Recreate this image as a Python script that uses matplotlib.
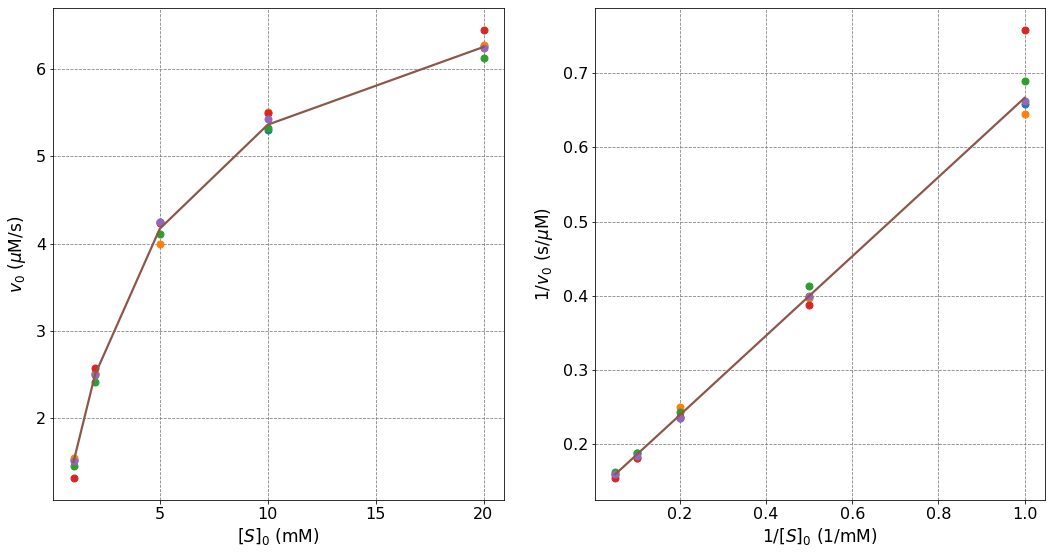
import numpy as np
from matplotlib import pyplot as plt

# substrate concentrations (mM)
S0 = np.array([1, 2, 5, 10, 20])

# initial rates for the five replicates (uM/s)
v_rep1 = np.array([1.52, 2.51, 4.25, 5.30, 6.26])
v_rep2 = np.array([1.55, 2.52, 4.00, 5.51, 6.27])
v_rep3 = np.array([1.45, 2.42, 4.11, 5.32, 6.12])
v_rep4 = np.array([1.32, 2.58, 4.23, 5.49, 6.44])
v_rep5 = np.array([1.51, 2.50, 4.25, 5.43, 6.24])

# fitted curve
v_fit = np.array([1.50, 2.50, 4.17, 5.36, 6.25])

reps = [v_rep1, v_rep2, v_rep3, v_rep4, v_rep5]

fs = 16
lfs = 17
fig = plt.figure(figsize=(1053/72, 560/72), dpi=72)
ax1 = fig.add_axes([53/1053, 60/560, 451/1053, 492/560])
ax2 = fig.add_axes([595/1053, 60/560, 450/1053, 492/560])

# left: Michaelis-Menten
for v in reps:
    ax1.plot(S0, v, 'o', markersize=7)
ax1.plot(S0, v_fit, '-', lw=2.2)
ax1.set_xticks([5, 10, 15, 20])
ax1.set_xlabel(r'$[S]_0$ (mM)', fontsize=lfs)
ax1.set_ylabel(r'$v_0$ ($\mu$M/s)', fontsize=lfs, labelpad=8)

# right: Lineweaver-Burk
for v in reps:
    ax2.plot(1/S0, 1/v, 'o', markersize=7)
ax2.plot(1/S0, 1/v_fit, '-', lw=2.2)
ax2.set_xlabel(r'$1/[S]_0$ (1/mM)', fontsize=lfs)
ax2.set_ylabel(r'$1/v_0$ (s/$\mu$M)', fontsize=lfs, labelpad=8)

for ax in (ax1, ax2):
    ax.grid(True, ls='--', color='gray', lw=0.8)
    ax.tick_params(labelsize=fs)

plt.savefig('out.png', dpi=72)
